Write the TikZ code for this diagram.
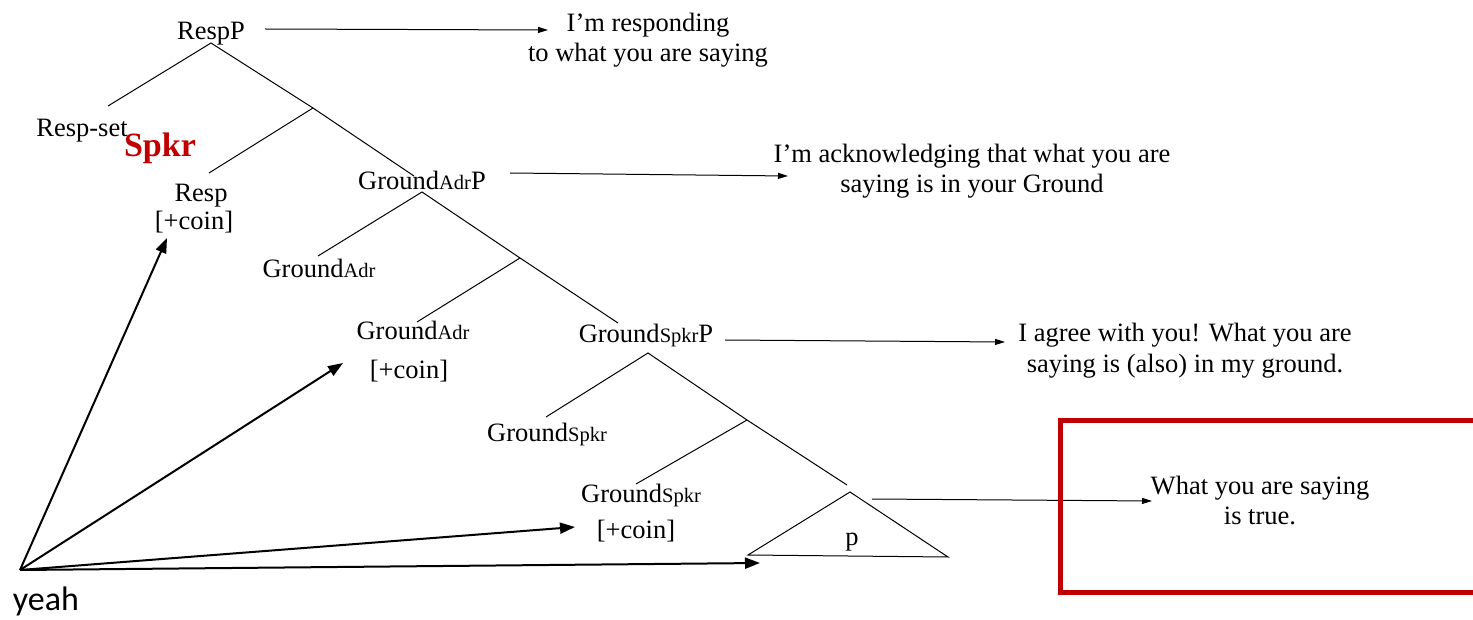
\documentclass[tikz,border=0pt]{standalone}
\usepackage{fontspec}
\setmainfont{Liberation Serif}
\newfontfamily\yeahfont{Carlito}
\usetikzlibrary{arrows.meta}
\definecolor{boxred}{RGB}{192,0,0}
% smaller index text set on the baseline (Ground_Adr, Ground_Spkr)
\newcommand\lowsub[1]{{\fontsize{20.5}{24}\selectfont #1}}
\begin{document}
\begin{tikzpicture}[x=1pt,y=-1pt,
  lbl/.style={inner sep=0pt, anchor=base, font=\fontsize{26.5}{30}\selectfont},
  gloss/.style={lbl, align=center},
  branch/.style={line width=1pt},
  glossarrow/.style={line width=1pt, -{Triangle[length=10pt,width=6pt]}},
  yeaharrow/.style={line width=2pt, -{Triangle[length=15pt,width=11pt]}},
  redbox/.style={draw=boxred, line width=5pt}
]
\clip (0,0) rectangle (1473,620);
\fill[white] (0,0) rectangle (1473,620);

% tree labels
\node[lbl] (RespP) at (211,40) {RespP};
\node[lbl] (RespSet) at (82,137) {Resp-set};
\node[lbl, font=\fontsize{34}{38}\selectfont\bfseries, text=boxred] (Spkr) at (160,157) {Spkr};
\node[lbl] (Resp) at (201,202) {Resp};
\node[lbl] (coinA) at (194,230) {[+coin]};
\node[lbl] (GAP) at (422,190) {Ground\lowsub{Adr}P};
\node[lbl] (GAa) at (319,278) {Ground\lowsub{Adr}};
\node[lbl] (GAb) at (413,340) {Ground\lowsub{Adr}};
\node[lbl] (coinB) at (409,378) {[+coin]};
\node[lbl] (GSP) at (646,343) {Ground\lowsub{Spkr}P};
\node[lbl] (GSa) at (547,441) {Ground\lowsub{Spkr}};
\node[lbl] (GSb) at (641,502) {Ground\lowsub{Spkr}};
\node[lbl] (coinC) at (636,538) {[+coin]};
\node[lbl] (p) at (852,545) {p};

% glosses (anchored on the baseline of their last line)
\node[gloss] (mA) at (648,62) {I’m responding\\to what you are saying};
\node[gloss] (mB) at (972,193) {I’m acknowledging that what you are\\saying is in your Ground};
\node[gloss] (mC) at (1185,372) {I agree with you! What you are\\saying is (also) in my ground.};
\node[gloss] (mD) at (1260,524) {What you are saying\\is true.};

\node[inner sep=0pt, anchor=base, font=\yeahfont\fontsize{34}{38}\selectfont] (yeah) at (46,610) {yeah};

% branch points
\coordinate (r0) at (211,43);
\coordinate (r0l) at (108,106);
\coordinate (r1) at (313,108);
\coordinate (r1l) at (209,173);
\coordinate (r1r) at (414,176);
\coordinate (a0) at (422,192);
\coordinate (a0l) at (318,256);
\coordinate (a1) at (520,258);
\coordinate (a1l) at (417,322);
\coordinate (a1r) at (618,323);
\coordinate (s0) at (648,353);
\coordinate (s0l) at (546,417);
\coordinate (s1) at (747,420);
\coordinate (s1l) at (636,484);
\coordinate (s1r) at (847,485);
\coordinate (pt) at (850,492);
\coordinate (pl) at (748,555);
\coordinate (pr) at (948,557);

\draw[branch] (r0l) -- (r0) -- (r1) -- (r1r) (r1) -- (r1l);
\draw[branch] (a0l) -- (a0) -- (a1) -- (a1r) (a1) -- (a1l);
\draw[branch] (s0l) -- (s0) -- (s1) -- (s1r) (s1) -- (s1l);
\draw[branch] (pt) -- (pl) -- (pr) -- cycle;

% arrows to the glosses
\coordinate (gAs) at (265,29);  \coordinate (gAe) at (548,30);
\coordinate (gBs) at (510,173); \coordinate (gBe) at (788,176);
\coordinate (gCs) at (725,340); \coordinate (gCe) at (1005,342);
\coordinate (gDs) at (872,499); \coordinate (gDe) at (1152,501);
\draw[glossarrow] (gAs) -- (gAe);
\draw[glossarrow] (gBs) -- (gBe);
\draw[glossarrow] (gCs) -- (gCe);
\draw[glossarrow] (gDs) -- (gDe);

% arrows from "yeah"
\coordinate (y0) at (20,570);
\coordinate (yA) at (167,238);
\coordinate (yB) at (343,363);
\coordinate (yC) at (575,527);
\coordinate (yD) at (760,563);
\draw[yeaharrow] (y0) -- (yA);
\draw[yeaharrow] (y0) -- (yB);
\draw[yeaharrow] (y0) -- (yC);
\draw[yeaharrow] (y0) -- (yD);

% frame round the last gloss
\draw[redbox] (1060,420) rectangle (1500,592);
\end{tikzpicture}
\end{document}
